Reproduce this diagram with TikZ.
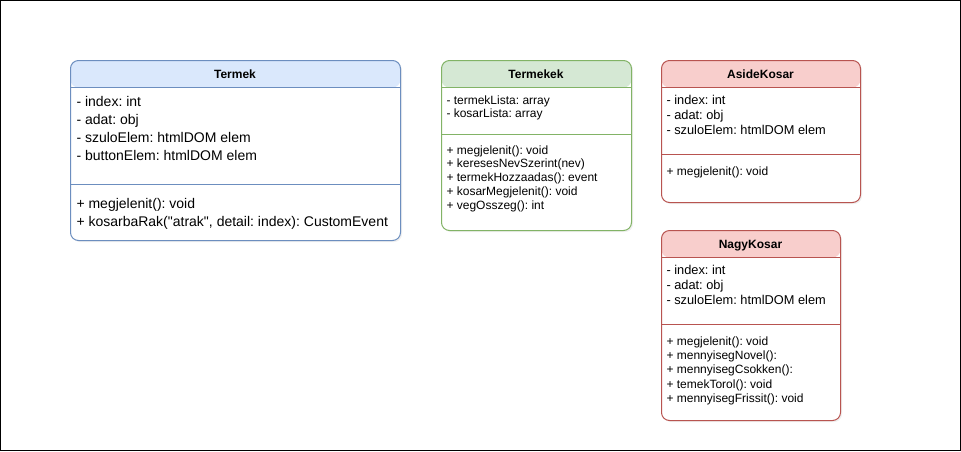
\documentclass[tikz,border=0pt]{standalone}
\usepackage{fontspec}
\setmainfont{Liberation Sans}
\frenchspacing
\usetikzlibrary{shadows}

\definecolor{blueFill}{HTML}{DAE8FC}
\definecolor{blueLine}{HTML}{6C8EBF}
\definecolor{greenFill}{HTML}{D5E8D4}
\definecolor{greenLine}{HTML}{82B366}
\definecolor{redFill}{HTML}{F8CECC}
\definecolor{redLine}{HTML}{B85450}

\begin{document}
\begin{tikzpicture}[x=1pt,y=-1pt,line width=1pt,
  class node/.style 2 args={draw=#2,fill=white,rounded corners=8pt,inner sep=0pt,anchor=north west,
    drop shadow={opacity=0.12,shadow xshift=1.5pt,shadow yshift=-1.5pt},
    path picture={\fill[#1] (path picture bounding box.north west) rectangle ([yshift=-27pt]path picture bounding box.north east);}},
  title node/.style={anchor=base,inner sep=0pt,font=\bfseries\fontsize{12}{14}\selectfont},
  member node/.style={anchor=base west,inner sep=0pt,align=left}]

  \useasboundingbox (0,0) rectangle (961,451);
  \draw[black] (0.5,0.5) rectangle (960.5,450.5);

  % Termek
  \node[class node={blueFill}{blueLine},minimum width=330pt,minimum height=180pt] (termek) at (70,60) {};
  \node[title node] (termekTitle) at (235,78) {Termek};
  \draw[blueLine] ([yshift=-27pt]termek.north west) -- ([yshift=-27pt]termek.north east);
  \draw[blueLine] ([yshift=-124pt]termek.north west) -- ([yshift=-124pt]termek.north east);
  % base = last line
  \node[member node,font=\fontsize{14}{18}\selectfont] (termekAttr) at (76,160.5)
    {- index: int\\- adat: obj\\- szuloElem: htmlDOM elem\\- buttonElem: htmlDOM elem};
  \node[member node,font=\fontsize{14}{18}\selectfont] (termekMeth) at (76,226)
    {+ megjelenit(): void\\+ kosarbaRak(\textquotedbl atrak\textquotedbl, detail: index): CustomEvent};

  % Termekek
  \node[class node={greenFill}{greenLine},minimum width=190pt,minimum height=170pt] (termekek) at (441,60) {};
  \node[title node] (termekekTitle) at (536,78) {Termekek};
  \draw[greenLine] ([yshift=-27pt]termekek.north west) -- ([yshift=-27pt]termekek.north east);
  \draw[greenLine] ([yshift=-74pt]termekek.north west) -- ([yshift=-74pt]termekek.north east);
  \node[member node,font=\fontsize{12}{13.4}\selectfont] (termekekAttr) at (446,117.7)
    {- termekLista: array\\- kosarLista: array};
  \node[member node,font=\fontsize{12}{13.8}\selectfont] (termekekMeth) at (446,209.2)
    {+ megjelenit(): void\\+ keresesNevSzerint(nev)\\+ termekHozzaadas(): event\\+ kosarMegjelenit(): void\\+ vegOsszeg(): int};

  % AsideKosar
  \node[class node={redFill}{redLine},minimum width=199pt,minimum height=142pt] (aside) at (661,60) {};
  \node[title node] (asideTitle) at (760.5,78) {AsideKosar};
  \draw[redLine] ([yshift=-27pt]aside.north west) -- ([yshift=-27pt]aside.north east);
  \draw[redLine] ([yshift=-94pt]aside.north west) -- ([yshift=-94pt]aside.north east);
  \node[member node,font=\fontsize{12.8}{15}\selectfont] (asideAttr) at (666,134.3)
    {- index: int\\- adat: obj\\- szuloElem: htmlDOM elem};
  \node[member node,font=\fontsize{12}{14.4}\selectfont] (asideMeth) at (666,175)
    {+ megjelenit(): void};

  % NagyKosar
  \node[class node={redFill}{redLine},minimum width=179pt,minimum height=190pt] (nagy) at (661,230) {};
  \node[title node] (nagyTitle) at (750.5,248) {NagyKosar};
  \draw[redLine] ([yshift=-27pt]nagy.north west) -- ([yshift=-27pt]nagy.north east);
  \draw[redLine] ([yshift=-94pt]nagy.north west) -- ([yshift=-94pt]nagy.north east);
  \node[member node,font=\fontsize{12.8}{15}\selectfont] (nagyAttr) at (666,304.3)
    {- index: int\\- adat: obj\\- szuloElem: htmlDOM elem};
  \node[member node,font=\fontsize{12}{14.4}\selectfont] (nagyMeth) at (666,402.6)
    {+ megjelenit(): void\\+ mennyisegNovel():\\+ mennyisegCsokken():\\+ temekTorol(): void\\+ mennyisegFrissit(): void};
\end{tikzpicture}
\end{document}
